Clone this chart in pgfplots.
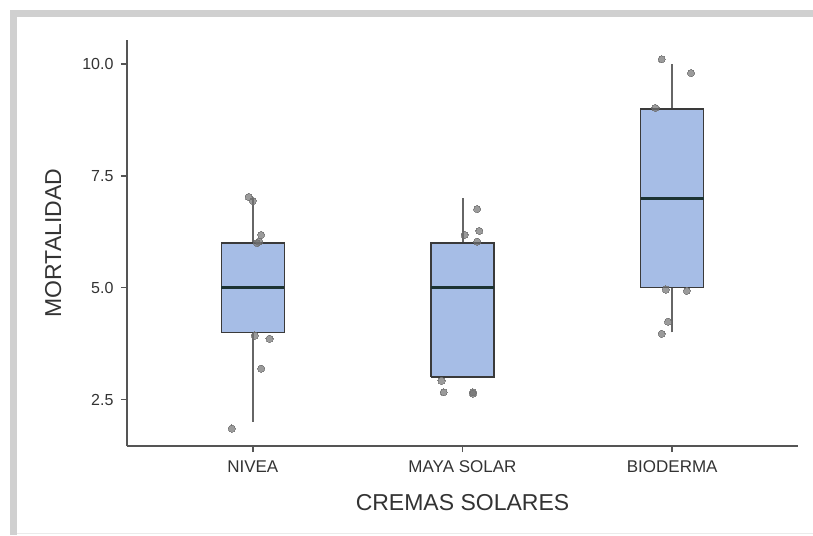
\documentclass[border=0pt]{standalone}
\usepackage{fontspec}
\setmainfont{Liberation Sans}
\usepackage{pgfplots}
\pgfplotsset{compat=1.18}
\definecolor{framegray}{HTML}{D0D0D0}
\definecolor{boxfill}{HTML}{A6BDE6}
\definecolor{boxdraw}{HTML}{3A3A3A}
\definecolor{medcol}{HTML}{1C3333}
\definecolor{whiskgray}{HTML}{666666}
\definecolor{axisgray}{HTML}{555555}
\definecolor{txtgray}{HTML}{333333}
\definecolor{ptgray}{HTML}{707070}
\pgfplotsset{
  whisk/.style={draw=whiskgray, line width=2pt, no marks},
  boxst/.style={draw=boxdraw, fill=boxfill, line width=1.5pt, line join=miter, no marks},
  medst/.style={draw=medcol, line width=2.8pt, no marks},
}
\begin{document}
\begin{tikzpicture}
\path[use as bounding box] (0pt,0pt) rectangle (813pt,535pt);
\fill[framegray] (10pt,518pt) rectangle (813pt,525pt);
\fill[framegray] (10pt,0pt) rectangle (17pt,525pt);
\draw[black!8, line width=1pt] (17pt,1.5pt) -- (813pt,1.5pt);
\begin{axis}[
  at={(127pt,89pt)}, anchor=south west, scale only axis,
  width=671pt, height=406pt,
  xmin=0.4, xmax=3.6, ymin=1.46, ymax=10.54,
  axis x line=bottom, axis y line=left,
  axis line style={-, draw=axisgray, line width=1.5pt},
  xtick={1,2,3}, xticklabels={NIVEA,MAYA SOLAR,BIODERMA},
  ytick={2.5,5,7.5,10}, yticklabels={2.5,5.0,7.5,10.0},
  tick align=outside, major tick length=6pt,
  tick style={draw=axisgray, line width=1.5pt},
  xticklabel style={font=\fontsize{17}{17}\selectfont, text=txtgray, yshift=-5pt},
  yticklabel style={font=\fontsize{16}{16}\selectfont, text=txtgray, xshift=-4pt},
  xlabel={CREMAS SOLARES}, ylabel={MORTALIDAD},
  xlabel style={at={(axis description cs:0.5,-0.140)}, anchor=center, font=\fontsize{23}{23}\selectfont, text=txtgray},
  ylabel style={at={(axis description cs:-0.110,0.5)}, anchor=center, font=\fontsize{23}{23}\selectfont, text=txtgray},
  clip=false,
]
% NIVEA: whiskers 2-7, box 4-6, median 5
\addplot[whisk] coordinates {(1,6) (1,7)};
\addplot[whisk] coordinates {(1,2) (1,4)};
\addplot[boxst] coordinates {(0.85,4) (1.15,4) (1.15,6) (0.85,6) (0.85,4)};
\addplot[medst] coordinates {(0.85,5) (1.15,5)};
% MAYA SOLAR: whiskers 3-7, box 3-6, median 5
\addplot[whisk] coordinates {(2,6) (2,7)};
\addplot[boxst] coordinates {(1.85,3) (2.15,3) (2.15,6) (1.85,6) (1.85,3)};
\addplot[medst] coordinates {(1.85,5) (2.15,5)};
% BIODERMA: whiskers 4-10, box 5-9, median 7
\addplot[whisk] coordinates {(3,9) (3,10)};
\addplot[whisk] coordinates {(3,4) (3,5)};
\addplot[boxst] coordinates {(2.85,5) (3.15,5) (3.15,9) (2.85,9) (2.85,5)};
\addplot[medst] coordinates {(2.85,7) (3.15,7)};
% jittered observations
\addplot[only marks, mark=*, mark size=3.6pt, mark options={fill=ptgray, draw=ptgray, line width=0pt, opacity=0.7}] coordinates {
 (0.98,7.03) (1.00,6.94) (1.04,6.18) (1.03,6.03) (1.02,6.00) (1.01,3.93) (1.08,3.86) (1.04,3.19) (0.90,1.85)
 (2.07,6.76) (2.01,6.18) (2.08,6.27) (2.07,6.03) (1.90,2.92) (1.91,2.66) (2.05,2.66) (2.05,2.63)
 (2.95,10.11) (3.09,9.80) (2.92,9.02) (2.97,4.96) (3.07,4.93) (2.98,4.24) (2.95,3.97)
};
\end{axis}
\end{tikzpicture}
\end{document}
